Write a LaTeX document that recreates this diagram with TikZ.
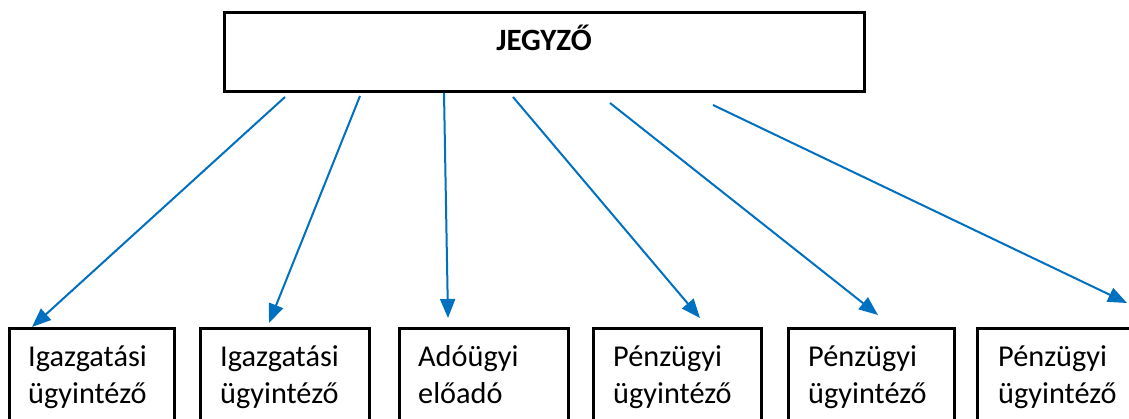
\documentclass[tikz,border=0pt]{standalone}
\usepackage{fontspec}
\setmainfont{Carlito}
\usetikzlibrary{arrows.meta,calc}
\definecolor{arrblue}{RGB}{0,112,192}
\begin{document}
\begin{tikzpicture}[x=1pt,y=-1pt,
  topbox/.style={draw=black,line width=2.8pt,rectangle,minimum width=640pt,minimum height=79pt,anchor=north west,inner sep=0pt},
  subbox/.style={draw=black,line width=2.6pt,rectangle,minimum height=140pt,anchor=north west,inner sep=0pt},
  boxtext/.style={anchor=base west,align=left,inner sep=0pt,font=\fontsize{30.3}{37}\selectfont},
  toptext/.style={anchor=base,inner sep=0pt,font=\fontsize{31}{37}\selectfont\bfseries},
  arr/.style={draw=arrblue,line width=2pt,-{Triangle[length=19pt,width=15pt]}}]
\useasboundingbox (0,0) rectangle (1129,418);
\clip (0,0) rectangle (1129,418);
\fill[white] (0,0) rectangle (1129,418);
% top box
\node[topbox] (top) at (223,11) {};
\node[toptext] (toplbl) at (544,50) {JEGYZŐ};
% bottom boxes
\node[subbox,minimum width=165pt] (b1) at (8,327) {};
\node[subbox,minimum width=169pt] (b2) at (199,327) {};
\node[subbox,minimum width=169pt] (b3) at (398,327) {};
\node[subbox,minimum width=168pt] (b4) at (592,327) {};
\node[subbox,minimum width=166pt] (b5) at (787,327) {};
\node[subbox,minimum width=180pt] (b6) at (976,327) {};
\node[boxtext] (l1) at ([shift={(20,76)}]b1.north west) {Igazgatási\\ügyintéző};
\node[boxtext] (l2) at ([shift={(21,76)}]b2.north west) {Igazgatási\\ügyintéző};
\node[boxtext] (l3) at ([shift={(20,76)}]b3.north west) {Adóügyi\\előadó};
\node[boxtext] (l4) at ([shift={(21,76)}]b4.north west) {Pénzügyi\\ügyintéző};
\node[boxtext] (l5) at ([shift={(21,76)}]b5.north west) {Pénzügyi\\ügyintéző};
\node[boxtext] (l6) at ([shift={(22,76)}]b6.north west) {Pénzügyi\\ügyintéző};
% arrows
\draw[arr] ([shift={(62,86)}]top.north west) -- ([shift={(24,0)}]b1.north west);
\draw[arr] ([shift={(137,85)}]top.north west) -- ([shift={(70,-4)}]b2.north west);
\draw[arr] (top.south west -| 444,0) -- ([shift={(50,-9)}]b3.north west);
\draw[arr] ([shift={(290,86)}]top.north west) -- ([shift={(108,-9)}]b4.north west);
\draw[arr] ([shift={(387,92)}]top.north west) -- ([shift={(91,-12)}]b5.north west);
\draw[arr] ([shift={(490,94)}]top.north west) -- ([shift={(151,-24)}]b6.north west);
\end{tikzpicture}
\end{document}
